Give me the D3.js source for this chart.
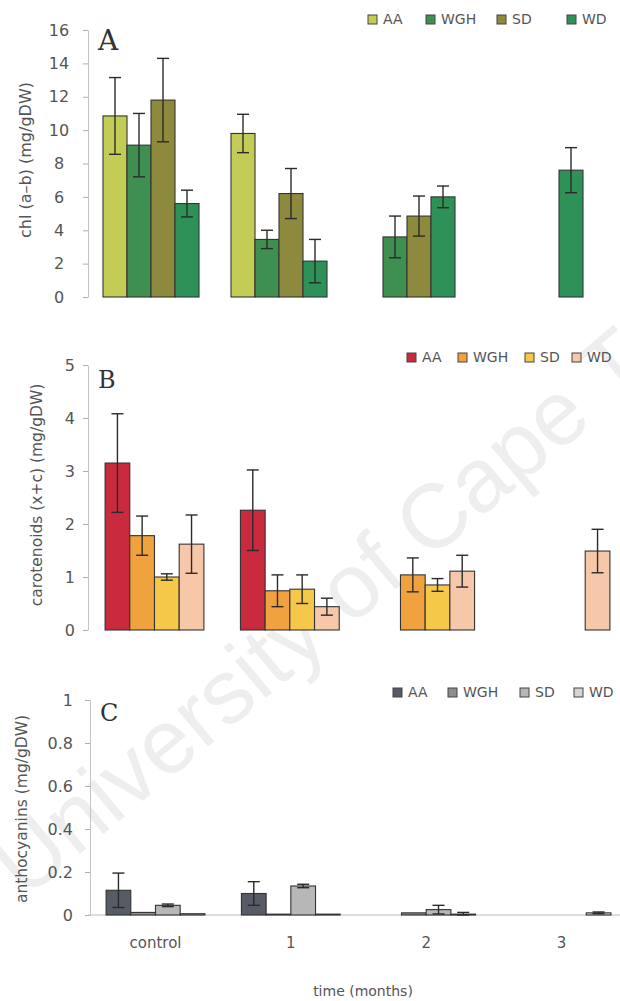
<!DOCTYPE html>
<html>
<head>
<meta charset="utf-8">
<script src="https://cdn.jsdelivr.net/npm/d3@7"></script>
<style>
  body { margin: 0; background: #fff; }
  svg { display: block; font-family: "DejaVu Sans", sans-serif; }
</style>
</head>
<body>
<div id="viz"></div>
<script>
const width = 620;
const height = 1001;

const months = ['control', '1', '2', '3'];
const groups = ['AA', 'WGH', 'SD', 'WD'];

// rows follow groups, columns follow months (null = not measured)
const chlMean = [
  [10.85, 9.8, null, null],
  [9.1, 3.45, 3.6, null],
  [11.8, 6.2, 4.85, null],
  [5.6, 2.15, 6.0, 7.6]
];
const chlErr = [
  [2.3, 1.15, null, null],
  [1.9, 0.55, 1.25, null],
  [2.5, 1.5, 1.2, null],
  [0.8, 1.3, 0.65, 1.35]
];

const carMean = [
  [3.15, 2.26, null, null],
  [1.78, 0.74, 1.04, null],
  [1.0, 0.77, 0.85, null],
  [1.62, 0.44, 1.11, 1.49]
];
const carErr = [
  [0.93, 0.76, null, null],
  [0.37, 0.3, 0.32, null],
  [0.06, 0.27, 0.12, null],
  [0.55, 0.16, 0.3, 0.41]
];

const antMean = [
  [0.115, 0.1, null, null],
  [0.012, 0.004, 0.01, null],
  [0.045, 0.135, 0.025, null],
  [0.006, 0.004, 0.004, 0.01]
];
const antErr = [
  [0.08, 0.055, null, null],
  [0, 0, 0, null],
  [0.006, 0.008, 0.02, null],
  [0, 0, 0.008, 0.004]
];

const chlTicks = [0, 2, 4, 6, 8, 10, 12, 14, 16];
const carTicks = [0, 1, 2, 3, 4, 5];
const antTicks = [0, 0.2, 0.4, 0.6, 0.8, 1];

const svg = d3.select('#viz')
  .append('svg')
    .attr('width', width)
    .attr('height', height);

// faint watermark of the scanned thesis
svg.append('text')
    .attr('transform', 'translate(25, 900) rotate(-40)')
    .attr('font-family', 'Liberation Sans, Arial, sans-serif')
    .attr('font-size', 91)
    .attr('fill', '#eeeeee')
    .text('University of Cape Town');

function drawPanel(p) {
  const g = svg.append('g');

  const x = d3.scaleBand()
    .domain(months)
    .range(p.xRange)
    .paddingInner(p.padIn)
    .paddingOuter(p.padOut);

  const xInner = d3.scaleBand()
    .domain(groups)
    .range([0, x.bandwidth()]);

  const y = d3.scaleLinear()
    .domain([0, d3.max(p.ticks)])
    .range(p.yRange);

  const color = d3.scaleOrdinal().domain(groups).range(p.colors);

  // y axis
  const yAxis = g.append('g')
    .attr('transform', `translate(${p.axisX}, 0)`)
    .call(d3.axisLeft(y).tickValues(p.ticks).tickFormat(d => String(d)).tickSize(5).tickSizeOuter(0).tickPadding(p.tickPad));
  yAxis.select('.domain').attr('stroke', '#c4c4c4');
  yAxis.selectAll('.tick line').attr('stroke', '#b0b0b0');
  yAxis.selectAll('.tick text')
    .attr('fill', '#555')
    .attr('font-size', 16)
    .attr('font-family', 'DejaVu Sans, sans-serif');
  if (p.tickAnchor) yAxis.selectAll('.tick text').attr('text-anchor', p.tickAnchor);

  // bars
  const cells = [];
  groups.forEach((s, si) => {
    months.forEach((m, mi) => {
      const v = p.mean[si][mi];
      if (v === null) return;
      cells.push({s: s, m: m, v: v, e: p.err[si][mi]});
    });
  });

  g.selectAll('rect.bar')
    .data(cells)
    .join('rect')
      .attr('class', 'bar')
      .attr('x', d => x(d.m) + xInner(d.s))
      .attr('y', d => y(d.v))
      .attr('width', xInner.bandwidth())
      .attr('height', d => y(0) - y(d.v))
      .attr('fill', d => color(d.s))
      .attr('stroke', '#333')
      .attr('stroke-width', 1.1);

  // error bars
  const eb = g.selectAll('g.err')
    .data(cells.filter(d => d.e > 0))
    .join('g')
      .attr('class', 'err')
      .attr('stroke', '#2b2b2b')
      .attr('stroke-width', 1.4);
  const cx = d => x(d.m) + xInner(d.s) + xInner.bandwidth() / 2;
  eb.append('line')
    .attr('x1', cx).attr('x2', cx)
    .attr('y1', d => y(d.v + d.e))
    .attr('y2', d => y(Math.max(0, d.v - d.e)));
  eb.append('line')
    .attr('x1', d => cx(d) - 6).attr('x2', d => cx(d) + 6)
    .attr('y1', d => y(d.v + d.e)).attr('y2', d => y(d.v + d.e));
  eb.append('line')
    .attr('x1', d => cx(d) - 6).attr('x2', d => cx(d) + 6)
    .attr('y1', d => y(Math.max(0, d.v - d.e))).attr('y2', d => y(Math.max(0, d.v - d.e)));

  // y label
  g.append('text')
    .attr('transform', `translate(${p.labelX}, ${p.labelY}) rotate(-90)`)
    .attr('text-anchor', 'middle')
    .attr('font-size', p.labelSize)
    .attr('fill', '#555')
    .text(p.label);

  // panel letter
  g.append('text')
    .attr('x', p.axisX + 10)
    .attr('y', p.letterY)
    .attr('font-family', 'DejaVu Serif, Liberation Serif, serif')
    .attr('font-size', p.letterSize)
    .attr('fill', '#333')
    .text(p.letter);

  // legend
  const leg = g.selectAll('g.leg')
    .data(groups)
    .join('g')
      .attr('class', 'leg')
      .attr('transform', (d, i) => `translate(${p.legendX[i]}, ${p.legendY})`);
  leg.append('rect')
    .attr('x', 0).attr('y', -9)
    .attr('width', 9).attr('height', 9)
    .attr('fill', d => color(d))
    .attr('stroke', '#444')
    .attr('stroke-width', 1);
  leg.append('text')
    .attr('x', 15)
    .attr('y', 0)
    .attr('font-size', 14)
    .attr('fill', '#555')
    .text(d => d);

  return {x: x, y: y, g: g};
}

drawPanel({
  mean: chlMean, err: chlErr, ticks: chlTicks,
  colors: ['#c3cc55', '#3f8f50', '#8e8a3d', '#2e9157'],
  xRange: [87, 599], padIn: 0.25, padOut: 0.125,
  yRange: [297, 30], axisX: 88, tickPad: 24, tickAnchor: 'middle',
  label: 'chl (a\u2013b) (mg/gDW)', labelX: 31, labelY: 160, labelSize: 16,
  letter: 'A', letterY: 50, letterSize: 28,
  legendX: [368, 426, 497, 567], legendY: 24
});

drawPanel({
  mean: carMean, err: carErr, ticks: carTicks,
  colors: ['#c92a3e', '#f0a23e', '#f5c84a', '#f6c7a8'],
  xRange: [87.5, 627.5], padIn: 0.27, padOut: 0.13,
  yRange: [630, 365], axisX: 88, tickPad: 8,
  label: 'carotenoids (x+c) (mg/gDW)', labelX: 42, labelY: 495, labelSize: 15.5,
  letter: 'B', letterY: 388, letterSize: 24,
  legendX: [407, 458, 525, 572], legendY: 362
});

const pc = drawPanel({
  mean: antMean, err: antErr, ticks: antTicks,
  colors: ['#565b66', '#8d8d8d', '#b7b7b7', '#d4d4d4'],
  xRange: [88.5, 628.5], padIn: 0.27, padOut: 0.13,
  yRange: [915, 700], axisX: 90, tickPad: 12,
  label: 'anthocyanins (mg/gDW)', labelX: 27, labelY: 809, labelSize: 15.5,
  letter: 'C', letterY: 721, letterSize: 24,
  legendX: [393, 448, 520, 574], legendY: 697
});

// category axis only on the bottom panel
const xAxis = pc.g.append('g')
  .attr('transform', `translate(0, ${pc.y(0)})`)
  .call(d3.axisBottom(pc.x).tickSize(0).tickPadding(22));
xAxis.select('.domain')
  .attr('d', `M88,0H620`)
  .attr('stroke', '#bdbdbd');
xAxis.selectAll('.tick text')
  .attr('font-size', 15)
  .attr('fill', '#555')
  .attr('font-family', 'DejaVu Sans, sans-serif');
xAxis.lower();

svg.append('text')
  .attr('x', 363)
  .attr('y', 996)
  .attr('text-anchor', 'middle')
  .attr('font-size', 14)
  .attr('fill', '#555')
  .text('time (months)');
</script>
</body>
</html>
